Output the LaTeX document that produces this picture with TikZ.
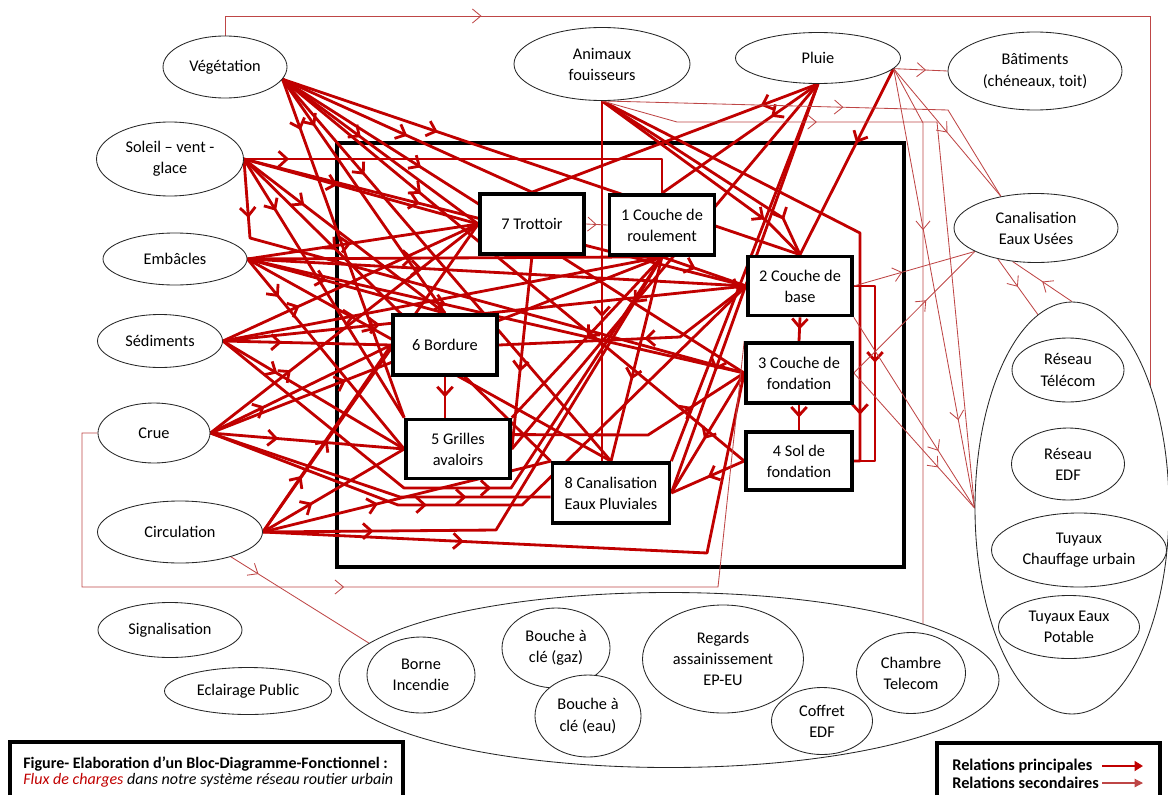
\documentclass[tikz,border=0pt]{standalone}
\usepackage{fontspec}
\setmainfont{Carlito}
\usetikzlibrary{shapes.geometric,arrows.meta,decorations.markings}
\definecolor{rouge}{RGB}{192,0,0}
\definecolor{rougeclair}{RGB}{190,70,70}
\pgfdeclarelayer{fond}
\pgfsetlayers{fond,main}
\begin{document}
\begin{tikzpicture}[x=0.025cm, y=-0.025cm,
  ovale/.style 2 args={ellipse, draw=black!85, line width=0.6pt, fill=white, align=center,
              inner sep=0pt, minimum width=#1*0.025cm, minimum height=#2*0.025cm,
              font=\fontsize{11.6}{15}\selectfont},
  bloc/.style 2 args={rectangle, draw, line width=2.6pt, fill=white, align=center,
              inner sep=0pt, minimum width=#1*0.025cm, minimum height=#2*0.025cm,
              font=\fontsize{11.6}{15}\selectfont},
  flux/.style={draw=rouge, line width=2pt, line join=round, postaction={decorate,
              decoration={markings, mark=at position #1 with {\arrow{Straight Barb[length=6pt,width=11pt]}}}}},
  flux/.default=0.4,
  flux2/.style={draw=rougeclair, line width=0.6pt, postaction={decorate,
              decoration={markings, mark=at position #1 with {\arrow{Straight Barb[length=6pt,width=10pt]}}}}},
  flux2/.default=0.5,
  cadre/.style={draw, line width=2.6pt},
  legende/.style={anchor=west, inner sep=0pt, font=\fontsize{11.6}{13}\selectfont\bfseries}]
    \useasboundingbox (0,0) rectangle (1168,795);
    \node[ovale={124}{62}] (veg) at (225,67) {Végétation};
    \node[ovale={147}{74}] (soleil) at (170,159) {Soleil – vent -\\glace};
    \node[ovale={144}{52}] (embacles) at (175,259) {Embâcles};
    \node[ovale={125}{53}] (sediments) at (160,341) {Sédiments};
    \node[ovale={112}{60}] (crue) at (154,433) {Crue};
    \node[ovale={165}{62}] (circulation) at (180,532) {Circulation};
    \node[ovale={144}{55}] (signal) at (170,630) {Signalisation};
    \node[ovale={167}{47}] (eclairage) at (248,691) {Eclairage Public};
    \node[ovale={176}{73}] (animaux) at (602,64) {Animaux\\fouisseurs};
    \node[ovale={165}{51}] (pluie) at (818,58) {Pluie};
    \node[ovale={174}{78}] (batiments) at (1035,71) {Bâtiments\\(chéneaux, toit)};
    \node[ovale={164}{69}] (eu) at (1036,228) {Canalisation\\Eaux Usées};
    \node[bloc={104}{60}] (b7) at (532,224) {7 Trottoir};
    \node[bloc={105}{60}] (b1) at (662,225) {1 Couche de\\roulement};
    \node[bloc={104}{59}] (b2) at (800,286) {2 Couche de\\base};
    \node[bloc={106}{60}] (b3) at (799,373) {3 Couche de\\fondation};
    \node[bloc={106}{58}] (b4) at (799,461) {4 Sol de\\fondation};
    \node[bloc={104}{60}] (b6) at (445,345) {6 Bordure};
    \node[bloc={104}{59}] (b5) at (458,449) {5 Grilles\\avaloirs};
    \node[bloc={117}{60}] (b8) at (611,493) {8 Canalisation\\Eaux Pluviales};
    \node[ovale={660}{175}] (ouvrages) at (669,680) {};
    \node[ovale={108}{76}] (borne) at (421,675) {Borne\\Incendie};
    \node[ovale={108}{80}] (gaz) at (556,648) {Bouche à\\clé (gaz)};
    \node[ovale={106}{82}] (eau) at (588,716) {Bouche à\\clé (eau)};
    \node[ovale={161}{108}] (regards) at (723,659) {Regards\\assainissement\\EP-EU};
    \node[ovale={101}{67}] (coffret) at (822,721) {Coffret\\EDF};
    \node[ovale={109}{81}] (chambre) at (911,673) {Chambre\\Telecom};
    \node[ovale={194}{412}] (reseaux) at (1072,508) {};
    \node[ovale={112}{64}] (telecom) at (1068,370) {Réseau\\Télécom};
    \node[ovale={113}{72}] (edf) at (1068,464) {Réseau\\EDF};
    \node[ovale={175}{74}] (chauffage) at (1079,550) {Tuyaux\\Chauffage urbain};
    \node[ovale={141}{63}] (potable) at (1069,627) {Tuyaux Eaux\\Potable};
    \coordinate (v1) at (225,16);
    \coordinate (v2) at (1150,16);
    \coordinate (v3) at (1150,386);
    \coordinate (c1) at (82,433);
    \coordinate (c2) at (82,587);
    \coordinate (c3) at (718,587);
    \coordinate (a1) at (948,110);
    \coordinate (a2) at (677,122);
    \coordinate (a3) at (937,122);
    \coordinate (a4) at (768,222);
    \coordinate (a5) at (783,218);
    \coordinate (a6) at (860,233);
    \coordinate (p1) at (923,123);
    \coordinate (p2) at (923,624);
    \coordinate (s1) at (250,238);
    \coordinate (e1) at (404,488);
    \coordinate (e2) at (511,488);
    \coordinate (e3) at (400,497);
    \coordinate (e4) at (398,505);
    \coordinate (e5) at (522,505);
    \coordinate (e6) at (496,530);
    \coordinate (e7) at (707,553);
    \coordinate (m1) at (680,337);
    \coordinate (m2) at (648,435);
    \coordinate (m3) at (875,286);
    \begin{pgfonlayer}{fond}
        \draw[cadre] (337,143) rectangle (904,567);
        \foreach \cible/\pos in {b5.north west/0.15, b6.north/0.2, b7.west/0.4, b7.north/0.5,
            b2.north/0.3, b3.west/0.3, b8.north/0.25, b4.west/0.3}
            \draw[flux=\pos] (veg.-12) -- (\cible);
        \foreach \cible/\pos in {b7.west/0.4, b6.north/0.3, b5.north west/0.2, b8.north west/0.3,
            b2.west/0.35}
            \draw[flux=\pos] (soleil.east) -- (\cible);
        \draw[flux=0.1] (soleil.east) -- (soleil.east -| b1.north) -- (b1.north);
        \draw[flux=0.1] (soleil.east) -- (s1) -- (b3.west);
        \foreach \cible/\pos in {b7.west/0.45, b2.west/0.35, b6.north/0.4, b5.west/0.2,
            b1.south/0.4, b3.west/0.4, b8.north/0.35}
            \draw[flux=\pos] (embacles.east) -- (\cible);
        \foreach \cible/\pos in {b6.west/0.35, b7.west/0.3, b1.south/0.3, b2.west/0.3, b5.west/0.3}
            \draw[flux=\pos] (sediments.east) -- (\cible);
        \draw[flux=0.52] (sediments.east) -- (e1) -- (e2) -- (b1.south);
        \foreach \cible/\pos in {b7.west/0.3, b6.west/0.3, b5.west/0.35, b1.south/0.3}
            \draw[flux=\pos] (crue.east) -- (\cible);
        \draw[flux=0.76] (crue.east) -- (e3) -- (b8.west |- e3);
        \draw[flux=0.36] (crue.east) -- (e4) -- (e5) -- (b2.west);
        \foreach \cible/\pos in {b7.west/0.3, b6.west/0.3, b5.west/0.35, b8.north west/0.4}
            \draw[flux=\pos] (circulation.east) -- (\cible);
        \draw[flux=0.2] (circulation.east) -- (e6) -- (b1.south);
        \draw[flux=0.32] (circulation.east) -- (e7) -- (b3.west);
        \draw[flux=0.6] (animaux.south) -- (animaux.south |- b8.north);
        \draw[flux=0.8] (animaux.south) -- (a4) -- (b2.north);
        \draw[flux=0.85] (animaux.south) -- (a5) -- (b2.north);
        \draw[flux=0.9] (animaux.south) -- (a6) -- (a6 |- b4.east) -- (b4.east);
        \foreach \cible/\pos in {b7.north/0.2, b1.north/0.3, b5.east/0.6, b8.east/0.7, b8.north east/0.55}
            \draw[flux=\pos] (pluie.south) -- (\cible);
        \draw[flux=0.4] (pluie.-8) -- (b2.north);
        \draw[flux=0.5] (b6.south) -- (b6.south |- b5.north);
        \draw[flux=0.5] (b2.south) -- (b3.north);
        \draw[flux=0.5] (b3.south) -- (b4.north);
        \draw[flux=0.4] (b1.south) -- (b2.west);
        \draw[flux=0.5] (b1.south) -- (b5.north east);
        \draw[flux=0.6] (b1.south) -- (b8.north);
        \draw[flux=0.6] (b7.south) -- (b5.east);
        \draw[flux=0.45] (b2.west) -- (m1) -- (b6.east);
        \draw[flux=0.75] (b5.15) -- (m2) -- (b3.west);
        \draw[flux=0.5] (b4.west) -- (b8.east);
        \draw[flux=0.55] (b3.west) -- (b8.east);
        \draw[flux=0.45] (b2.east) -- (m3) -- (m3 |- b4.east) -- (b4.east);
        \draw[flux2=0.5] (b7.east) -- (b1.west);
        \draw[flux2=0.21] (veg.north) -- (v1) -- (v2) -- (v3);
        \draw[flux2=0.41] (crue.west) -- (c1) -- (c2) -- (c3) -- (b3.north west);
        \draw[flux2=0.2] (circulation.-26) -- (ouvrages.173);
        \draw[flux2=0.54] (animaux.south) -- (a1) -- (eu.138);
        \draw[flux2=0.3] (animaux.south) -- (a2) -- (a3) -- (reseaux.west);
        \draw[flux2=0.6] (pluie.-8) -- (batiments.west);
        \draw[flux2=0.5] (pluie.-8) -- (eu.138);
        \draw[flux2=0.8] (pluie.-8) -- (reseaux.west);
        \draw[flux2=0.3] (pluie.-8) -- (p1) -- (p2);
        \draw[flux2=0.4] (b2.east) -- (eu.201);
        \draw[flux2=0.6] (b3.east) -- (eu.201);
        \draw[flux2=0.7] (b2.south east) -- (reseaux.west);
        \draw[flux2=0.7] (b3.east) -- (reseaux.west);
        \draw[flux2=0.5] (eu.219) -- (reseaux.100);
        \draw[flux2=0.5] (reseaux.north) -- (eu.235);
    \end{pgfonlayer}
    \draw[cadre] (10,795) |- (403,742) -- (403,795);
    \node[anchor=west, align=left, inner sep=0pt, font=\fontsize{11.4}{12}\selectfont] (titre) at (23,772)
        {\textbf{Figure- Elaboration d’un Bloc-Diagramme-Fonctionnel :}\\
         \textit{\textcolor{rouge}{Flux de charges} dans notre système réseau routier urbain}};
    \draw[cadre] (937,795) |- (1160,743) -- (1160,795);
    \node[legende] (lp) at (952,766) {Relations principales};
    \node[legende] (ls) at (952,783) {Relations secondaires};
    \coordinate (lp1) at (1102,766);
    \coordinate (lp2) at (1143,766);
    \coordinate (ls1) at (1102,783);
    \coordinate (ls2) at (1143,783);
    \draw[rouge, line width=1.8pt, -{Triangle[length=6pt,width=7pt]}] (lp1) -- (lp2);
    \draw[rougeclair, line width=0.8pt, -{Triangle[length=6pt,width=6pt]}] (ls1) -- (ls2);
\end{tikzpicture}
\end{document}
